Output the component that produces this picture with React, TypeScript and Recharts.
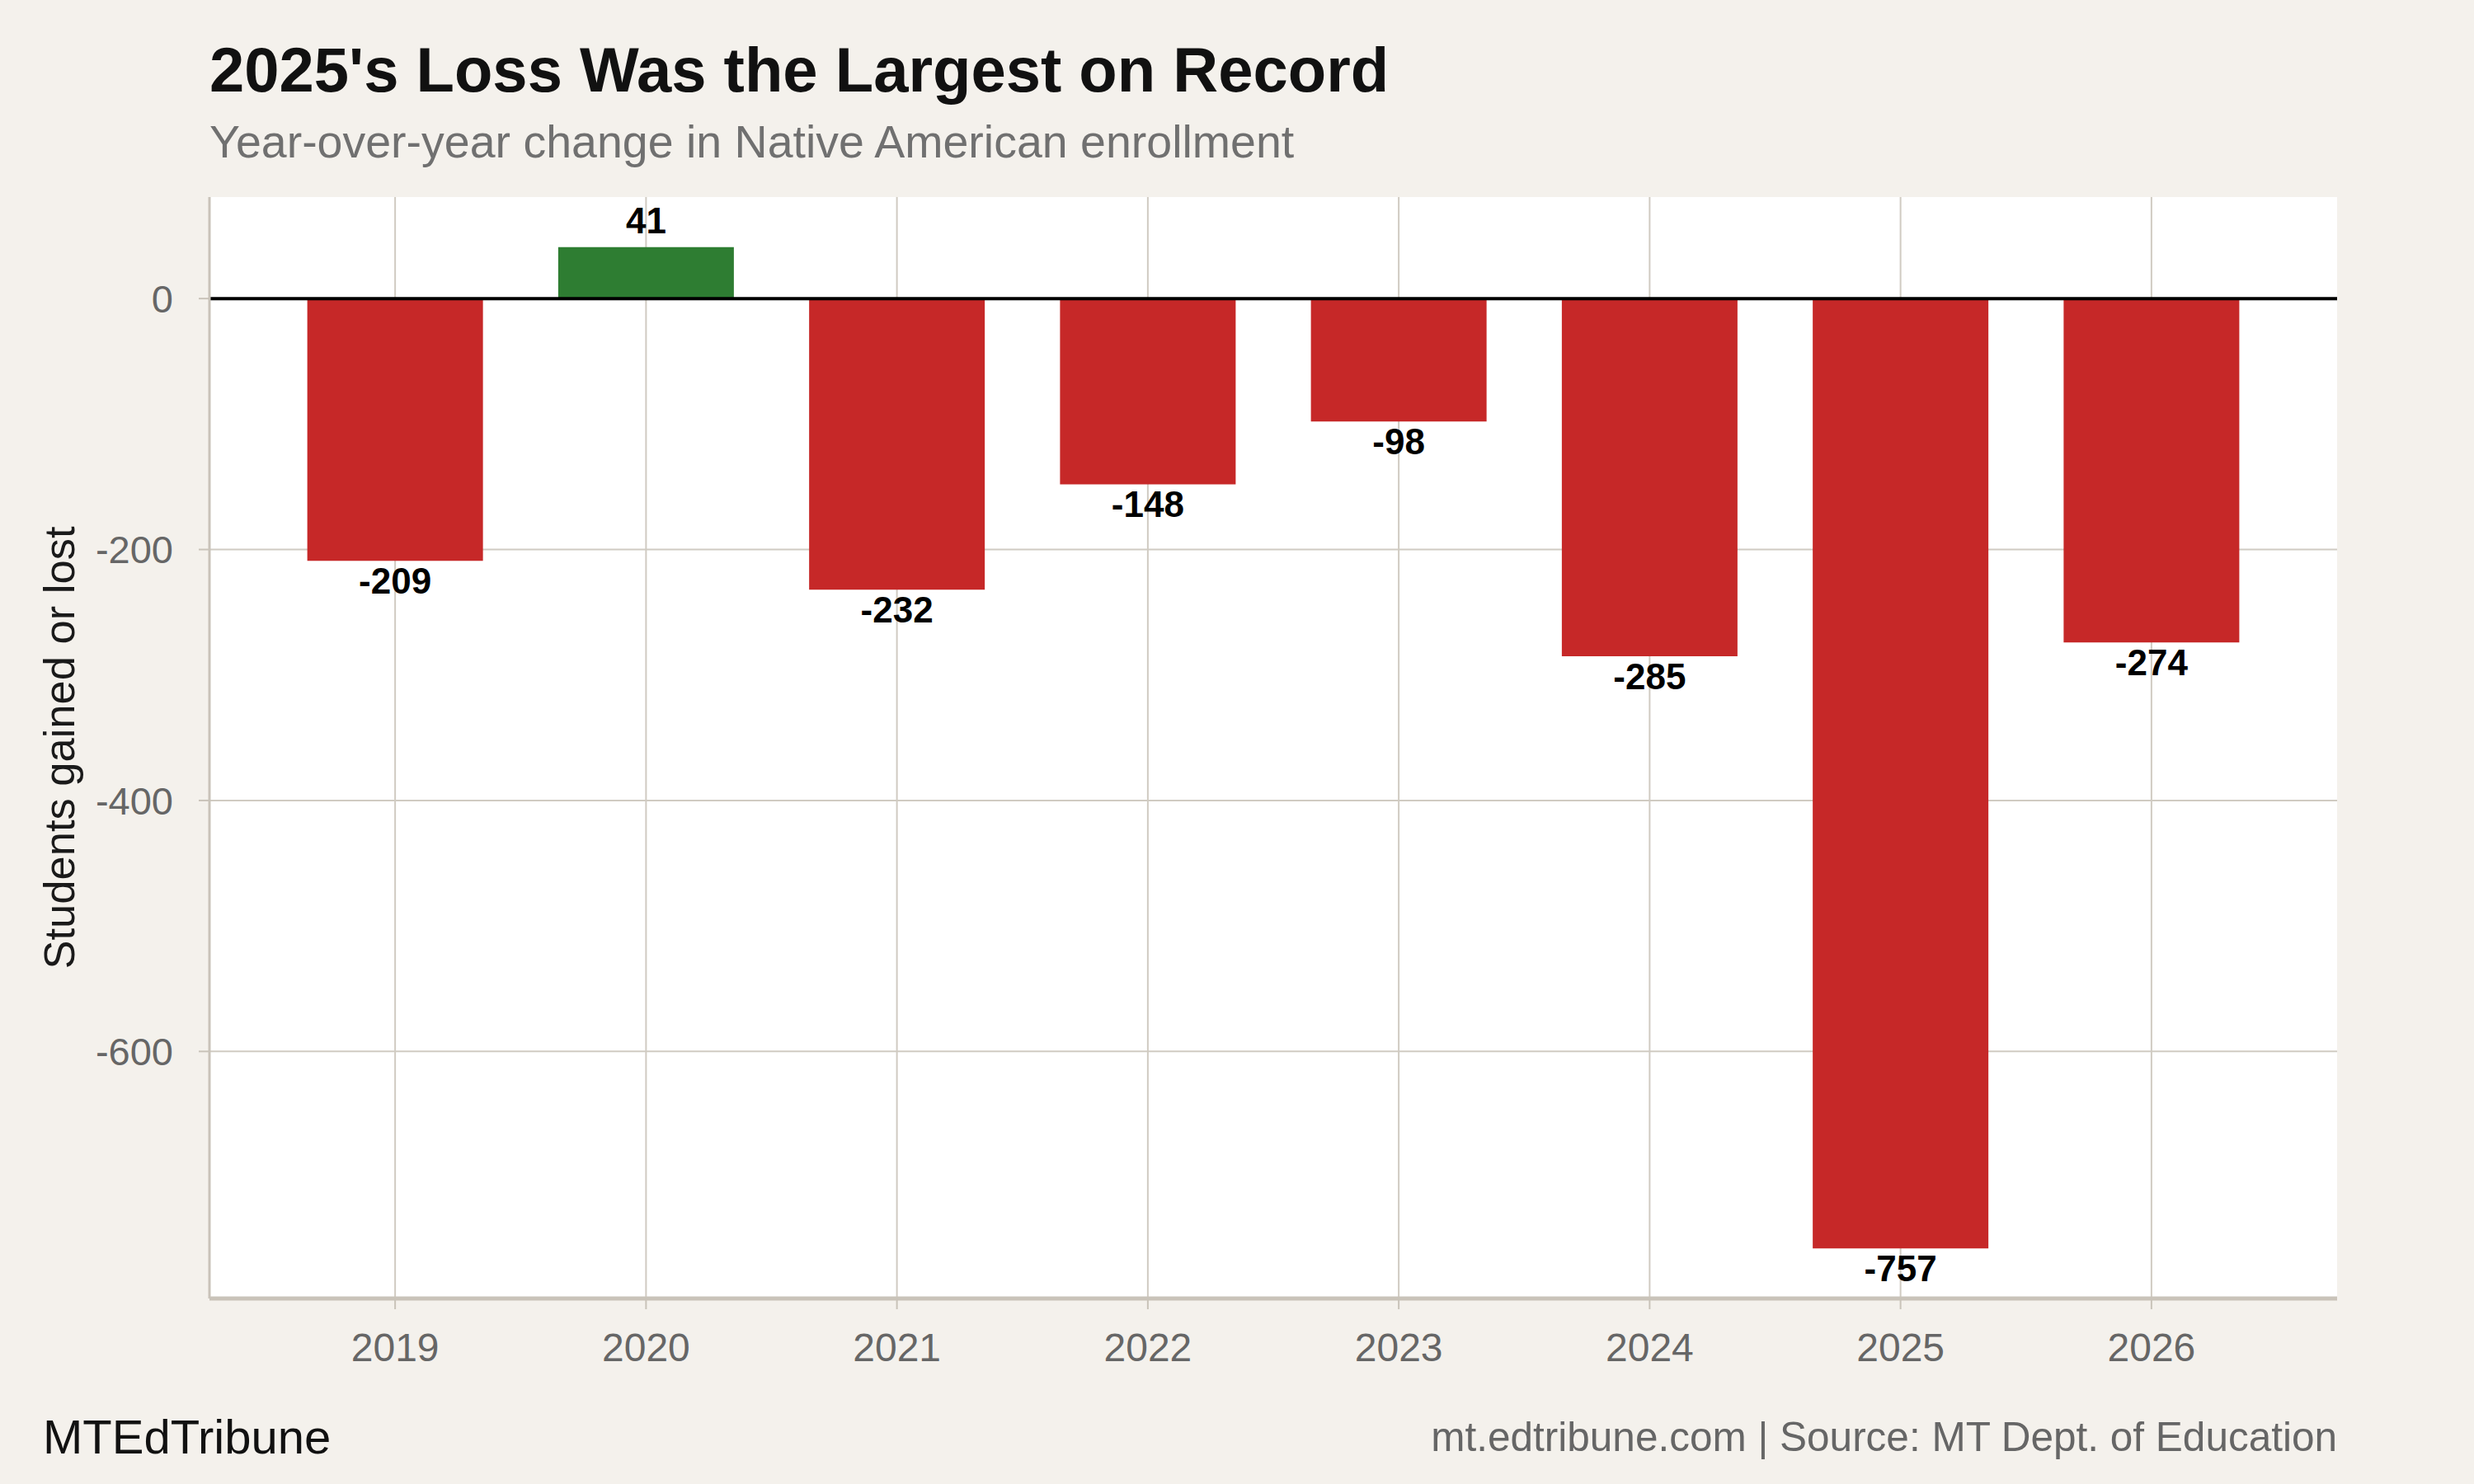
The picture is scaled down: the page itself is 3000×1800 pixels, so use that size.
import React from 'react';
import {
  BarChart,
  Bar,
  XAxis,
  YAxis,
  CartesianGrid,
  ReferenceLine,
  LabelList,
  Cell
} from 'recharts';

// Data
const years = ['2019', '2020', '2021', '2022', '2023', '2024', '2025', '2026'];
const changes = [-209, 41, -232, -148, -98, -285, -757, -274];
const yTicks = [-600, -400, -200, 0];

const data = years.map((year, i) => ({ year, change: changes[i] }));

const FONT = '"Liberation Sans", Arial, Helvetica, sans-serif';
const BG = '#f4f1ec';
const GRID = '#d0cbc2';
const AXIS = '#c9c3b9';
const RED = '#c62828';
const GREEN = '#2e7d32';

const BarValueLabel = (props: any) => {
  const { x, y, width, height, value } = props;
  const top = Math.min(y, y + height);
  const bottom = Math.max(y, y + height);
  const cx = x + width / 2;
  const ty = value >= 0 ? top - 17 : bottom + 40;
  return (
    <text
      x={cx}
      y={ty}
      textAnchor="middle"
      fontFamily={FONT}
      fontWeight="bold"
      fontSize={44}
      fill="#000"
    >
      {value}
    </text>
  );
};

const App = () => (
  <div
    style={{
      position: 'absolute',
      left: 0,
      top: 0,
      width: 3000,
      height: 1800,
      background: BG,
      fontFamily: FONT
    }}
  >
    <div
      style={{
        position: 'absolute',
        left: 254,
        top: 116 - 69,
        fontSize: 76,
        fontWeight: 'bold',
        color: '#111',
        lineHeight: '1',
        whiteSpace: 'nowrap'
      }}
    >
      2025's Loss Was the Largest on Record
    </div>
    <div
      style={{
        position: 'absolute',
        left: 254,
        top: 196 - 51,
        fontSize: 55.5,
        color: '#707070',
        lineHeight: '1',
        whiteSpace: 'nowrap'
      }}
    >
      Year-over-year change in Native American enrollment
    </div>
    <div
      style={{
        position: 'absolute',
        left: 71,
        top: 907,
        transform: 'translate(-50%, -50%) rotate(-90deg)',
        fontSize: 52.5,
        color: '#1a1a1a',
        whiteSpace: 'nowrap'
      }}
    >
      Students gained or lost
    </div>

    <div style={{ position: 'absolute', left: 0, top: 0 }}>
      <BarChart
        width={3000}
        height={1800}
        data={data}
        margin={{ top: 239, right: 166, left: 174, bottom: 125 }}
        barCategoryGap="15%"
      >
        <CartesianGrid
          fill="#ffffff"
          stroke={GRID}
          strokeWidth={2}
          syncWithTicks
        />
        <XAxis
          dataKey="year"
          interval={0}
          padding={{ left: 73, right: 73 }}
          height={100}
          tickSize={13}
          tickMargin={29}
          axisLine={{ stroke: AXIS, strokeWidth: 5 }}
          tickLine={{ stroke: AXIS, strokeWidth: 2 }}
          tick={{ fill: '#666', fontSize: 48, fontFamily: FONT }}
        />
        <YAxis
          type="number"
          domain={[-796.9, 80.9]}
          ticks={yTicks}
          allowDataOverflow
          width={80}
          tickSize={13}
          tickMargin={31}
          axisLine={{ stroke: AXIS, strokeWidth: 3 }}
          tickLine={{ stroke: AXIS, strokeWidth: 2 }}
          tick={{ fill: '#666', fontSize: 47, fontFamily: FONT }}
        />
        <Bar dataKey="change" isAnimationActive={false}>
          {data.map((d, i) => (
            <Cell key={`cell-${i}`} fill={d.change >= 0 ? GREEN : RED} />
          ))}
          <LabelList dataKey="change" content={BarValueLabel} />
        </Bar>
        <ReferenceLine y={0} stroke="#000" strokeWidth={4} />
      </BarChart>
    </div>

    <div
      style={{
        position: 'absolute',
        left: 52,
        top: 1767 - 53,
        fontSize: 58,
        color: '#111',
        lineHeight: '1',
        whiteSpace: 'nowrap'
      }}
    >
      MTEdTribune
    </div>
    <div
      style={{
        position: 'absolute',
        right: 3000 - 2834,
        top: 1763 - 45,
        fontSize: 49.5,
        color: '#666',
        lineHeight: '1',
        whiteSpace: 'nowrap'
      }}
    >
      mt.edtribune.com | Source: MT Dept. of Education
    </div>
  </div>
);

export default App;
